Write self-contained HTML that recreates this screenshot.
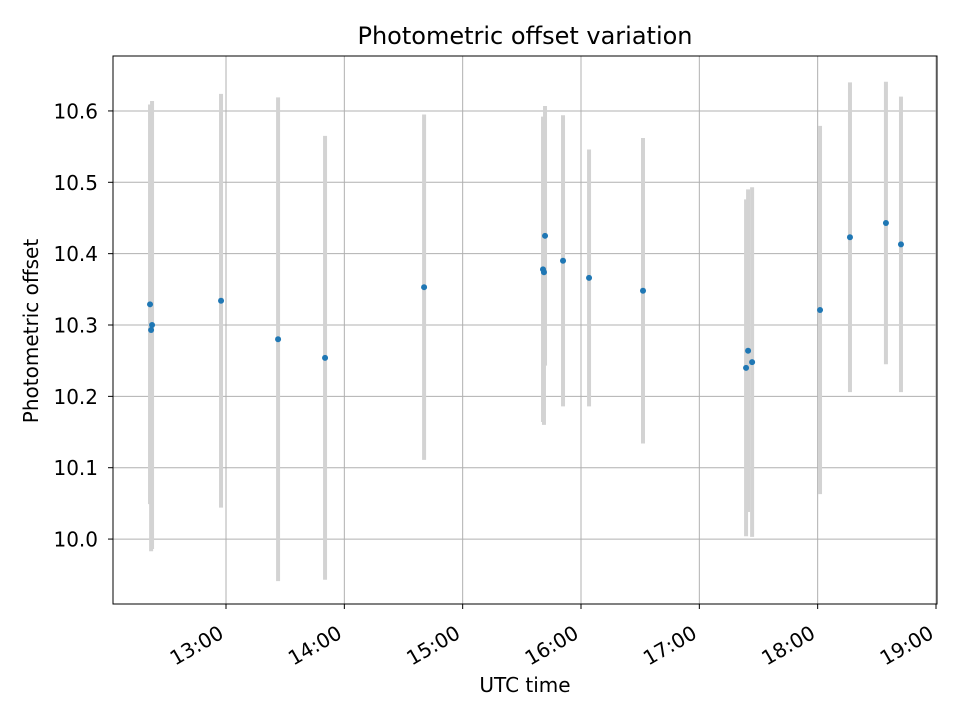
<!DOCTYPE html>
<html><head><meta charset="utf-8"><style>
body{margin:0;background:#fff;}
svg text{font-family:"DejaVu Sans","Liberation Sans",sans-serif;fill:#000;}
</style></head><body>
<svg id="chart" width="960" height="720" xmlns="http://www.w3.org/2000/svg">
<rect width="960" height="720" fill="#fff"/>
<g id="grid"></g>
<g id="errs"></g>
<g id="pts"></g>
<rect x="113" y="56" width="824" height="548" fill="none" stroke="#000" stroke-width="1"/>
<g id="axes"></g>
<text x="525" y="44" font-size="24" text-anchor="middle">Photometric offset variation</text>
<text x="525" y="692" font-size="20" text-anchor="middle">UTC time</text>
<text x="38" y="331" font-size="20" text-anchor="middle" transform="rotate(-90 38 331)">Photometric offset</text>
</svg>
<script>
const times = [12.358,12.375,12.367,12.958,13.440,13.837,14.674,15.679,15.687,15.696,15.848,16.068,16.524,17.395,17.412,17.446,18.020,18.273,18.577,18.704];
const values = [10.329,10.300,10.293,10.334,10.280,10.254,10.353,10.378,10.374,10.425,10.390,10.366,10.348,10.240,10.264,10.248,10.321,10.423,10.443,10.413];
const errors = [0.280,0.314,0.310,0.290,0.339,0.311,0.242,0.214,0.214,0.182,0.204,0.180,0.214,0.236,0.226,0.245,0.258,0.217,0.198,0.207];
const xTicks = [13,14,15,16,17,18,19];
const xTickLabels = ["13:00","14:00","15:00","16:00","17:00","18:00","19:00"];
const yTicks = [10.0,10.1,10.2,10.3,10.4,10.5,10.6];
const yTickLabels = ["10.0","10.1","10.2","10.3","10.4","10.5","10.6"];
const X0=113,X1=937,Y0=56,Y1=604;
const xMin=12.045,xMax=19.0085,yMin=9.909,yMax=10.677;
const sx=v=>X0+(v-xMin)/(xMax-xMin)*(X1-X0);
const sy=v=>Y1-(v-yMin)/(yMax-yMin)*(Y1-Y0);
const NS="http://www.w3.org/2000/svg";
function mk(tag,attrs,parent){const e=document.createElementNS(NS,tag);for(const k in attrs)e.setAttribute(k,attrs[k]);parent.appendChild(e);return e;}
const grid=document.getElementById('grid'),axes=document.getElementById('axes'),errs=document.getElementById('errs'),pts=document.getElementById('pts');
xTicks.forEach((t,i)=>{const x=sx(t);
 const g=mk('line',{x1:x,x2:x,y1:Y0,y2:Y1,stroke:'#b0b0b0','stroke-width':1},grid);
 
 
 const tk=mk('line',{x1:x,x2:x,y1:Y1,y2:Y1+5,stroke:'#000'},axes);
 
 
 const ax=x-1, ay=Y1+33;
 const tx=mk('text',{x:ax,y:ay,'font-size':20,'text-anchor':'end',transform:`rotate(-30 ${ax} ${ay})`},axes);
 tx.textContent=xTickLabels[i];
 
 
});
yTicks.forEach((v,i)=>{const y=sy(v);
 const g=mk('line',{x1:X0,x2:X1,y1:y,y2:y,stroke:'#b0b0b0','stroke-width':1},grid);
 
 
 const tk=mk('line',{x1:X0-5,x2:X0,y1:y,y2:y,stroke:'#000'},axes);
 
 
 const tx=mk('text',{x:X0-15,y:y+7.5,'font-size':20,'text-anchor':'end'},axes);
 tx.textContent=yTickLabels[i];
 
 
});
times.forEach((t,i)=>{const x=sx(t);
 const e=mk('line',{x1:x,x2:x,y1:sy(values[i]+errors[i]),y2:sy(values[i]-errors[i]),stroke:'#d3d3d3','stroke-width':4},errs);
 
 
 const p=mk('circle',{cx:x,cy:sy(values[i]),r:3,fill:'#1f77b4'},pts);
 
 
});
</script>
</body></html>
